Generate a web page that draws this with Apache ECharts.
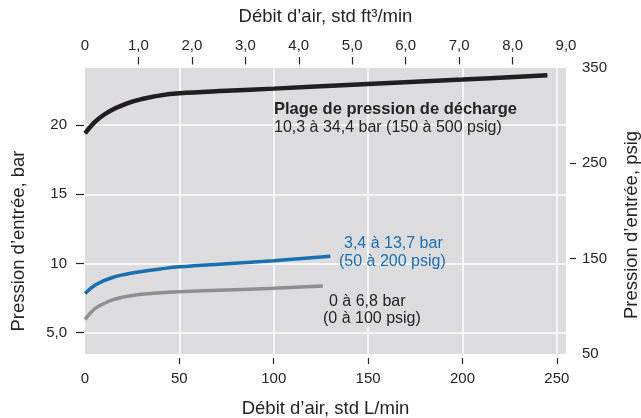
<!DOCTYPE html>
<html><head><meta charset="utf-8">
<script src="https://cdn.jsdelivr.net/npm/echarts@6/dist/echarts.min.js"></script>
<style>html,body{margin:0;padding:0;background:#fff}#c{width:641px;height:418px}</style>
</head><body><div id="c"></div>
<script>
// ---- data ----
const FT3_TO_LPM = 28.3168;
const PSI_PER_BAR = 14.5038;

const blackFlow = [0, 5, 10, 15, 20, 25, 30, 40, 50, 75, 100, 150, 200, 245];
const blackBar  = [19.4, 20.2, 20.75, 21.15, 21.45, 21.7, 21.88, 22.15, 22.3, 22.48, 22.64, 22.98, 23.3, 23.6];

const blueFlow = [0, 5, 10, 15, 20, 25, 30, 40, 50, 75, 100, 130];
const blueBar  = [7.83, 8.4, 8.75, 9.0, 9.17, 9.3, 9.42, 9.6, 9.75, 9.98, 10.2, 10.52];

const grayFlow = [0, 5, 10, 15, 20, 25, 30, 40, 50, 75, 100, 126];
const grayBar  = [5.95, 6.7, 7.1, 7.38, 7.56, 7.68, 7.77, 7.88, 7.95, 8.08, 8.2, 8.36];

const bottomLabelValues = [0, 50, 100, 150, 200, 250];
const bottomTickValues  = [50, 100, 150, 200, 250];
const topLabelValues = [0, 1, 2, 3, 4, 5, 6, 7, 8, 9];
const topLabels      = ['0', '1,0', '2,0', '3,0', '4,0', '5,0', '6,0', '7,0', '8,0', '9,0'];
const topTickValues  = [1, 2, 3, 4, 5, 6, 7, 8];
const leftValues = [5, 10, 15, 20];
const leftLabels = ['5,0', '10', '15', '20'];
const rightLabelValues = [50, 150, 250, 350];
const rightTickValues  = [150, 250];

const topMaxFt3 = 9;
const psigMin = 50, psigMax = 350;

// ---- chart ----
const zip = (xs, ys) => xs.map((x, i) => [x, ys[i]]);
const txt = '#262324';
const FONT = '"Liberation Sans", Arial, sans-serif';
const tickFont = {color: txt, fontSize: 15, fontFamily: FONT};
const nameFont = {color: txt, fontSize: 18.5, fontFamily: FONT};
const tickLine = {color: txt, width: 1.2};

const chart = echarts.init(document.getElementById('c'), null, {renderer: 'canvas'});
chart.setOption({
  animation: false,
  backgroundColor: '#ffffff',
  grid: {left: 85, top: 68, width: 481, height: 286, show: true, backgroundColor: '#dcdcde', borderWidth: 0,
    containLabel: false, outerBoundsMode: 'none'},
  xAxis: [{
    type: 'value', position: 'bottom', offset: 4,
    min: 0, max: topMaxFt3 * FT3_TO_LPM,
    name: 'Débit d’air, std L/min', nameLocation: 'middle', nameGap: 41, nameTextStyle: nameFont,
    axisLine: {show: false, onZero: false},
    axisTick: {show: true, inside: false, length: 6, lineStyle: tickLine, customValues: bottomTickValues},
    axisLabel: Object.assign({margin: 13, customValues: bottomLabelValues, showMinLabel: true, showMaxLabel: true, formatter: v => String(v)}, tickFont),
    splitLine: {show: true, lineStyle: {color: '#ffffff', width: 1.5}}
  }, {
    type: 'value', position: 'top', offset: 3.5,
    min: 0, max: topMaxFt3,
    name: 'Débit d’air, std ft³/min', nameLocation: 'middle', nameGap: 38, nameTextStyle: nameFont,
    axisLine: {show: false, onZero: false},
    axisTick: {show: true, inside: false, length: 7.5, lineStyle: tickLine, customValues: topTickValues},
    axisLabel: Object.assign({margin: 11, customValues: topLabelValues, showMinLabel: true, showMaxLabel: true,
      formatter: v => topLabels[topLabelValues.indexOf(v)]}, tickFont),
    splitLine: {show: false}
  }],
  yAxis: [{
    type: 'value', position: 'left', offset: 1,
    min: psigMin / PSI_PER_BAR, max: psigMax / PSI_PER_BAR,
    name: 'Pression d’entrée, bar', nameLocation: 'middle', nameGap: 56,
    nameTextStyle: Object.assign({padding: [0, 60, 0, 0]}, nameFont),
    axisLine: {show: false, onZero: false},
    axisTick: {show: true, inside: false, length: 8, lineStyle: tickLine, customValues: leftValues},
    axisLabel: Object.assign({margin: 17, customValues: leftValues, formatter: v => leftLabels[leftValues.indexOf(v)]}, tickFont),
    splitLine: {show: true, lineStyle: {color: '#ffffff', width: 1.5}}
  }, {
    type: 'value', position: 'right', offset: 4,
    min: psigMin, max: psigMax,
    name: 'Pression d’entrée, psig', nameLocation: 'middle', nameGap: 52,
    nameTextStyle: Object.assign({padding: [0, 28, 0, 0]}, nameFont),
    axisLine: {show: false, onZero: false},
    axisTick: {show: true, inside: false, length: 6, lineStyle: tickLine, customValues: rightTickValues},
    axisLabel: Object.assign({margin: 12, customValues: rightLabelValues, showMinLabel: true, showMaxLabel: true, formatter: v => String(v)}, tickFont),
    splitLine: {show: false}
  }],
  series: [
    {type: 'line', name: 'black', xAxisIndex: 0, yAxisIndex: 0, data: zip(blackFlow, blackBar), showSymbol: false,
      smooth: 0.4, lineStyle: {color: '#221e1f', width: 4.5, cap: 'butt'}},
    {type: 'line', name: 'blue', xAxisIndex: 0, yAxisIndex: 0, data: zip(blueFlow, blueBar), showSymbol: false,
      smooth: 0.4, lineStyle: {color: '#1a6fb1', width: 3.5, cap: 'butt'}},
    {type: 'line', name: 'gray', xAxisIndex: 0, yAxisIndex: 0, data: zip(grayFlow, grayBar), showSymbol: false,
      smooth: 0.4, lineStyle: {color: '#8d8e90', width: 3.5, cap: 'butt'}}
  ],
  graphic: [
    {type: 'text', z: 100, left: 274, top: 101, style: {text: 'Plage de pression de décharge', fill: txt, font: 'bold 16.5px ' + FONT}},
    {type: 'text', z: 100, left: 274, top: 120, style: {text: '10,3 à 34,4 bar (150 à 500 psig)', fill: txt, font: '16px ' + FONT}},
    {type: 'text', z: 100, left: 344, top: 236, style: {text: '3,4 à 13,7 bar', fill: '#1a6fb1', font: '16px ' + FONT}},
    {type: 'text', z: 100, left: 339, top: 254, style: {text: '(50 à 200 psig)', fill: '#1a6fb1', font: '16px ' + FONT}},
    {type: 'text', z: 100, left: 329, top: 294, style: {text: '0 à 6,8 bar', fill: txt, font: '16px ' + FONT}},
    {type: 'text', z: 100, left: 323, top: 311, style: {text: '(0 à 100 psig)', fill: txt, font: '16px ' + FONT}}
  ]
});
</script>
</body></html>
